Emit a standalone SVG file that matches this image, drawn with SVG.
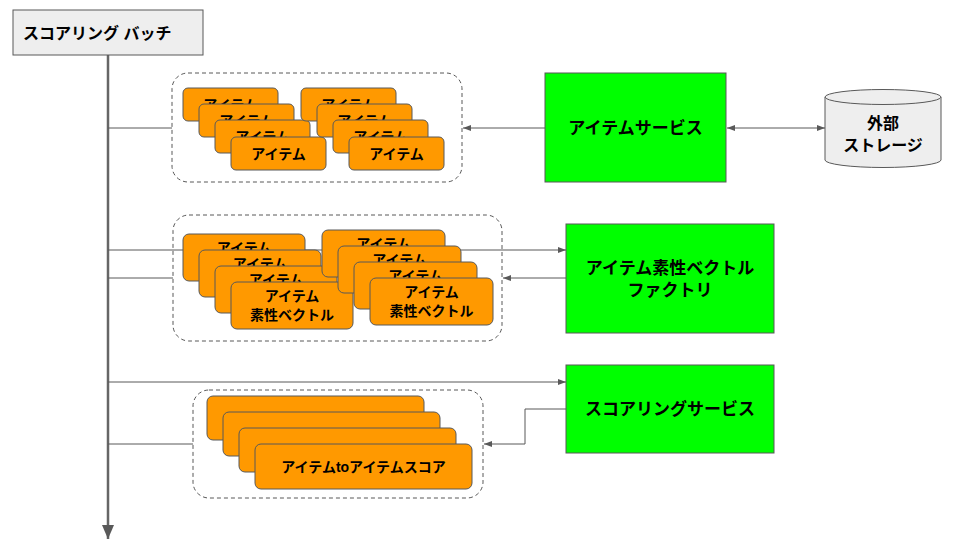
<svg xmlns="http://www.w3.org/2000/svg" width="960" height="540" viewBox="0 0 960 540">
<style>
text{font-family:"Liberation Sans","Noto Sans CJK JP",sans-serif;font-weight:bold;fill:#000;text-anchor:middle;dominant-baseline:central}
.card{fill:#ff9900;stroke:#595959;stroke-width:1}
.grp{fill:#fff;stroke:#595959;stroke-width:1;stroke-dasharray:4,3}
.svc{fill:#00ff00;stroke:#595959;stroke-width:1}
.ln{fill:none;stroke:#595959;stroke-width:1}
.c14{font-size:14px}
.c17{font-size:17px}
</style>
<defs>
<marker id="ah" markerUnits="userSpaceOnUse" markerWidth="8" markerHeight="6" refX="8" refY="3" orient="auto"><path d="M0,0 L8,3 L0,6 z" fill="#595959"/></marker>
<marker id="ahs" markerUnits="userSpaceOnUse" markerWidth="8" markerHeight="6" refX="0" refY="3" orient="auto"><path d="M8,0 L0,3 L8,6 z" fill="#595959"/></marker>
<marker id="big" markerUnits="userSpaceOnUse" markerWidth="12" markerHeight="14" refX="6" refY="14" orient="0"><path d="M0,0 L12,0 L6,14 z" fill="#595959"/></marker>
</defs>
<rect width="960" height="540" fill="#fff"/>

<g id="groups">
<rect class="grp" x="172" y="73" width="290" height="109" rx="16"/>
<rect class="grp" x="173" y="215" width="329" height="126" rx="16"/>
<rect class="grp" x="193" y="390" width="290" height="108" rx="16"/>
</g>

<g id="connectors">
<path class="ln" d="M108,55 V539" stroke-width="2.5" style="stroke:#666;stroke-width:2.5" marker-end="url(#big)"/>
<path class="ln" d="M108,128 H172"/>
<path class="ln" d="M545,128 H463" marker-end="url(#ah)"/>
<path class="ln" d="M727,128 H825" marker-start="url(#ahs)" marker-end="url(#ah)"/>
<path class="ln" d="M108,250 H566" marker-end="url(#ah)"/>
<path class="ln" d="M108,278 H173"/>
<path class="ln" d="M566,278 H503" marker-end="url(#ah)"/>
<path class="ln" d="M108,382 H566" marker-end="url(#ah)"/>
<path class="ln" d="M108,444 H193"/>
<path class="ln" d="M566,409 H525 V444 H484" marker-end="url(#ah)"/>
</g>

<g id="batch">
<rect x="13" y="10" width="190" height="45" fill="#eeeeee" stroke="#595959"/>
<text x="23" y="33" style="font-size:16px;text-anchor:start">スコアリング バッチ</text>
</g>

<g id="items-a">
<rect class="card" x="183" y="88" width="95" height="33" rx="5"/><text class="c14" x="230.5" y="104.5">アイテム</text>
<rect class="card" x="199" y="104" width="95" height="33" rx="5"/><text class="c14" x="246.5" y="120.5">アイテム</text>
<rect class="card" x="215" y="120" width="95" height="33" rx="5"/><text class="c14" x="262.5" y="136.5">アイテム</text>
<rect class="card" x="231" y="137" width="95" height="33" rx="5"/><text class="c14" x="278.5" y="153.5">アイテム</text>
</g>
<g id="items-b">
<rect class="card" x="301" y="88" width="95" height="33" rx="5"/><text class="c14" x="348.5" y="104.5">アイテム</text>
<rect class="card" x="317" y="104" width="95" height="33" rx="5"/><text class="c14" x="364.5" y="120.5">アイテム</text>
<rect class="card" x="333" y="120" width="95" height="33" rx="5"/><text class="c14" x="380.5" y="136.5">アイテム</text>
<rect class="card" x="349" y="137" width="95" height="33" rx="5"/><text class="c14" x="396.5" y="153.5">アイテム</text>
</g>

<g id="vectors-a">
<rect class="card" x="183" y="234" width="122" height="47" rx="6"/><text class="c14" x="244" y="248">アイテム</text><text class="c14" x="244" y="267">素性ベクトル</text>
<rect class="card" x="199" y="250" width="122" height="47" rx="6"/><text class="c14" x="260" y="264">アイテム</text><text class="c14" x="260" y="283">素性ベクトル</text>
<rect class="card" x="215" y="266" width="122" height="47" rx="6"/><text class="c14" x="276" y="280">アイテム</text><text class="c14" x="276" y="299">素性ベクトル</text>
<rect class="card" x="231" y="282" width="122" height="47" rx="6"/><text class="c14" x="292" y="296">アイテム</text><text class="c14" x="292" y="315">素性ベクトル</text>
</g>
<g id="vectors-b">
<rect class="card" x="322" y="230" width="123" height="47" rx="6"/><text class="c14" x="383.5" y="244">アイテム</text><text class="c14" x="383.5" y="263">素性ベクトル</text>
<rect class="card" x="338" y="246" width="123" height="47" rx="6"/><text class="c14" x="399.5" y="260">アイテム</text><text class="c14" x="399.5" y="279">素性ベクトル</text>
<rect class="card" x="354" y="262" width="123" height="47" rx="6"/><text class="c14" x="415.5" y="276">アイテム</text><text class="c14" x="415.5" y="295">素性ベクトル</text>
<rect class="card" x="370" y="278" width="123" height="47" rx="6"/><text class="c14" x="431.5" y="292">アイテム</text><text class="c14" x="431.5" y="311">素性ベクトル</text>
</g>

<g id="scores">
<rect class="card" x="207" y="396" width="217" height="44" rx="6"/>
<rect class="card" x="223" y="412" width="217" height="44" rx="6"/>
<rect class="card" x="239" y="428" width="217" height="44" rx="6"/>
<rect class="card" x="255" y="444" width="217" height="45" rx="6"/>
<text class="c14" x="363.5" y="466.5">アイテムtoアイテムスコア</text>
</g>

<g id="item-service">
<rect class="svc" x="545" y="73" width="181" height="109"/>
<text class="c17" x="635.5" y="128">アイテムサービス</text>
</g>

<g id="storage">
<path d="M825,97 V160 A58,7.5 0 0 0 941,160 V97" fill="#eeeeee" stroke="#595959"/>
<ellipse cx="883" cy="97" rx="58" ry="7.5" fill="#eeeeee" stroke="#595959"/>
<text x="883" y="123" style="font-size:16px">外部</text>
<text x="883" y="145" style="font-size:16px">ストレージ</text>
</g>

<g id="factory">
<rect class="svc" x="566" y="224" width="208" height="109"/>
<text class="c17" x="670" y="268">アイテム素性ベクトル</text>
<text class="c17" x="670" y="290">ファクトリ</text>
</g>

<g id="scoring-service">
<rect class="svc" x="566" y="365" width="208" height="88"/>
<text class="c17" x="670" y="409.5">スコアリングサービス</text>
</g>
</svg>
